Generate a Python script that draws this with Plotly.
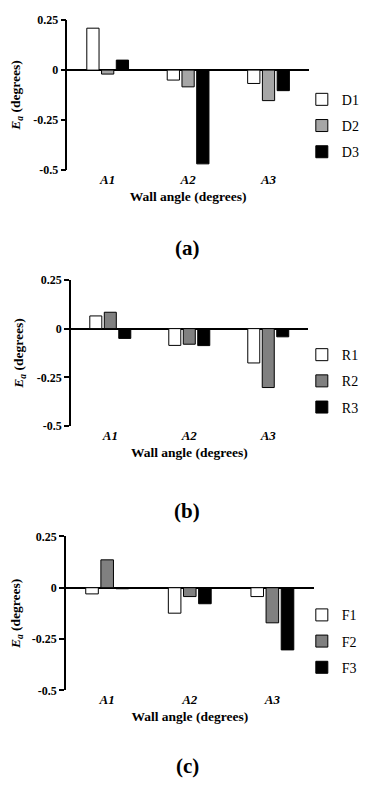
import plotly.graph_objects as go

categories = ["A1", "A2", "A3"]
tick_vals = [0.25, 0, -0.25, -0.5]
tick_text = ["0.25", "0", "-0.25", "-0.5"]

D1 = [0.21, -0.05, -0.067]
D2 = [-0.02, -0.084, -0.153]
D3 = [0.05, -0.47, -0.103]

R1 = [0.065, -0.086, -0.176]
R2 = [0.084, -0.08, -0.302]
R3 = [-0.05, -0.087, -0.042]

F1 = [-0.03, -0.124, -0.043]
F2 = [0.136, -0.043, -0.171]
F3 = [-0.005, -0.078, -0.303]

panels = [
    ("(a)", [("D1", D1), ("D2", D2), ("D3", D3)], "#a6a6a6"),
    ("(b)", [("R1", R1), ("R2", R2), ("R3", R3)], "#808080"),
    ("(c)", [("F1", F1), ("F2", F2), ("F3", F3)], "#808080"),
]

# page has an 8px body margin: figure sized to fit inside the 373x794 window
OFF = 8
W, H = 373 - 2 * OFF, 794 - 2 * OFF


def fx(px):
    return (px - OFF) / W


def fy(py):
    return 1 - (py - OFF) / H


# reference pixel layout: (x0, x1, y of 0.25, y of -0.5, label y)
geo = [
    (68.3, 313, 13.3, 165.7, 245),
    (71.7, 312, 277.7, 426.7, 513),
    (66.7, 318, 539, 695.7, 773),
]
legend_y = [90, 350, 615]

serif = "Liberation Serif"
fig = go.Figure()

for i, (lab, series, gray) in enumerate(panels):
    x0, x1, yt, yb, ly = geo[i]
    sfx = "" if i == 0 else str(i + 1)
    lg = "legend" if i == 0 else f"legend{i+1}"
    fills = ["white", gray, "black"]
    for j, (name, vals) in enumerate(series):
        fig.add_trace(go.Bar(
            x=categories, y=vals, name=name,
            xaxis="x" + sfx, yaxis="y" + sfx,
            marker=dict(color=fills[j], line=dict(color="black", width=1)),
            legend=lg, legendgroup=name,
        ))
    fig.update_layout({
        "xaxis" + sfx: dict(
            domain=[fx(x0), fx(x1)], anchor="y" + sfx,
            showline=False, showgrid=False, zeroline=False, ticks="",
            tickfont=dict(family=serif, size=13, color="black", weight="bold", style="italic"),
            title=dict(text="<b>Wall angle (degrees)</b>", font=dict(family=serif, size=13.5, color="black"), standoff=5),
        ),
        "yaxis" + sfx: dict(
            domain=[fy(yb), fy(yt)], anchor="x" + sfx,
            range=[-0.5, 0.25], tickvals=tick_vals, ticktext=tick_text,
            showline=True, linecolor="black", linewidth=1.5,
            ticks="outside", ticklen=5, tickcolor="black", tickwidth=1.5,
            showgrid=False, zeroline=True, zerolinecolor="black", zerolinewidth=1.5,
            tickfont=dict(family=serif, size=12, color="black", weight="bold"),
            title=dict(text="<b><i>E<sub>a</sub></i> (degrees)</b>", font=dict(family=serif, size=13.5, color="black"), standoff=10),
        ),
        lg: dict(
            x=fx(306), y=fy(legend_y[i] - 12), xanchor="left", yanchor="top",
            font=dict(family=serif, size=14, color="black"),
            bgcolor="rgba(0,0,0,0)", tracegroupgap=5, itemwidth=30,
        ),
    })
    fig.add_annotation(
        text=f"<b>{lab}</b>", x=fx(190), y=fy(ly),
        xref="paper", yref="paper", showarrow=False,
        xanchor="center", yanchor="middle",
        font=dict(family=serif, size=21, color="black"),
    )

fig.update_layout(
    width=W, height=H, margin=dict(l=0, r=0, t=0, b=0),
    paper_bgcolor="white", plot_bgcolor="white",
    barmode="group", bargap=0.45, bargroupgap=0.17,
    showlegend=True,
)
fig.write_html("out.html")
